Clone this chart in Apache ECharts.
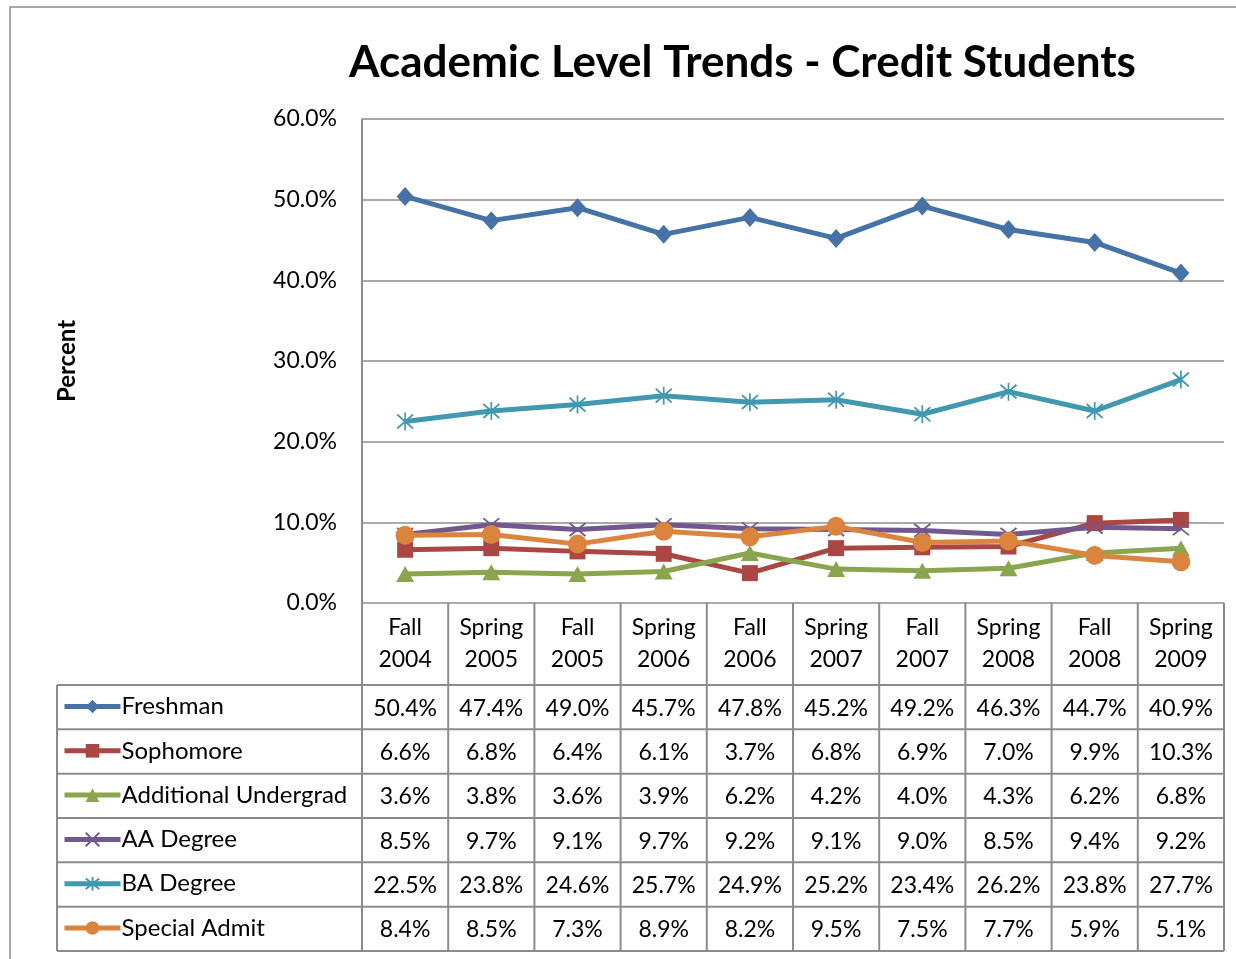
<!DOCTYPE html>
<html>
<head>
<meta charset="utf-8">
<script src="https://cdn.jsdelivr.net/npm/echarts@6/dist/echarts.min.js"></script>
<style>html,body{margin:0;padding:0;background:#fff;}#c{width:1236px;height:959px;}</style>
</head>
<body>
<div id="c"></div>
<script>
const categories = ['Fall\n2004','Spring\n2005','Fall\n2005','Spring\n2006','Fall\n2006','Spring\n2007','Fall\n2007','Spring\n2008','Fall\n2008','Spring\n2009'];
const seriesNames = ['Freshman','Sophomore','Additional Undergrad','AA Degree','BA Degree','Special Admit'];
const freshman = [50.4,47.4,49.0,45.7,47.8,45.2,49.2,46.3,44.7,40.9];
const sophomore = [6.6,6.8,6.4,6.1,3.7,6.8,6.9,7.0,9.9,10.3];
const additionalUndergrad = [3.6,3.8,3.6,3.9,6.2,4.2,4.0,4.3,6.2,6.8];
const aaDegree = [8.5,9.7,9.1,9.7,9.2,9.1,9.0,8.5,9.4,9.2];
const baDegree = [22.5,23.8,24.6,25.7,24.9,25.2,23.4,26.2,23.8,27.7];
const specialAdmit = [8.4,8.5,7.3,8.9,8.2,9.5,7.5,7.7,5.9,5.1];
const yTicks = [0,10,20,30,40,50,60];

const allData = [freshman, sophomore, additionalUndergrad, aaDegree, baDegree, specialAdmit];
const colors = ['#4572A7','#AA4643','#89A54E','#71588F','#4198AF','#DB843D'];
const symbols = ['diamond','rect','triangle','path://M0,0L10,10M0,10L10,0','path://M0,0L10,10M0,10L10,0M5,-1.5L5,11.5','circle'];
const symbolSizes = [[17,19],16,[18,16],[16,13],[16,18],19];
const FONT = 'Lato';
const GRID = '#8c8c8c';
const FS = 23;

const chart = echarts.init(document.getElementById('c'), null, {renderer:'canvas'});

const series = seriesNames.map((n,i)=>({
  name:n, type:'line', data:allData[i],
  symbol:symbols[i], symbolSize:symbolSizes[i],
  lineStyle:{width:5, color:colors[i]},
  itemStyle:(i===3||i===4)?{color:colors[i], borderColor:colors[i], borderWidth:1.8}:{color:colors[i]},
  emphasis:{disabled:true},
  animation:false
}));

chart.setOption({
  animation:false,
  title:{text:'Academic Level Trends - Credit Students', left:344, top:36,
    textStyle:{fontFamily:FONT, fontWeight:'bold', fontSize:44, color:'#000'}},
  grid:{left:362, top:119, width:862, height:484},
  legend:{orient:'vertical', left:62, top:694, padding:0, itemWidth:56, itemHeight:17, itemGap:19.3,
    selectedMode:false,
    lineStyle:{width:5},
    textStyle:{fontFamily:FONT, fontSize:24, color:'#000', lineHeight:25, padding:[0,0,0,-4]},
    data:seriesNames},
  xAxis:{type:'category', data:categories, boundaryGap:true,
    axisLine:{show:false},
    axisTick:{show:false},
    axisLabel:{fontFamily:FONT, fontSize:FS, color:'#000', lineHeight:32, margin:9, interval:0}},
  yAxis:{type:'value', min:yTicks[0], max:yTicks[yTicks.length-1], interval:10,
    name:'Percent', nameLocation:'middle', nameGap:283, nameRotate:90,
    nameTextStyle:{fontFamily:FONT, fontWeight:'bold', fontSize:24, color:'#000'},
    axisLine:{show:true, lineStyle:{color:GRID, width:1.5}},
    axisTick:{show:false},
    splitLine:{lineStyle:{color:GRID, width:1.5}},
    axisLabel:{fontFamily:FONT, fontSize:FS, color:'#000', margin:25, formatter:v=>v.toFixed(1)+'%'}},
  series:series
});

// Build data table from axis scale
const c0 = chart.convertToPixel({xAxisIndex:0}, 0);
const c1 = chart.convertToPixel({xAxisIndex:0}, 1);
const band = c1 - c0;
const yZero = chart.convertToPixel({yAxisIndex:0}, 0);
const yTop = chart.convertToPixel({yAxisIndex:0}, 60);
const left0 = c0 - band/2;
const right0 = left0 + band*categories.length;
const headerH = 82;
const rowH = 44.33;
const tableLeft = 57;
const headBottom = yZero + headerH;
const tableBottom = headBottom + rowH*seriesNames.length;
const g = [];
const ls = {stroke:GRID, lineWidth:2};
g.push({type:'rect', shape:{x:10,y:7,width:1400,height:1200}, style:{fill:'none', stroke:'#8c8c8c', lineWidth:1.5}, silent:true});
for(let k=0;k<=categories.length;k++){
  const x = left0 + k*band;
  g.push({type:'line', shape:{x1:x,y1:(k===0?yTop:yZero),x2:x,y2:tableBottom}, style:ls, silent:true});
}
g.push({type:'line', shape:{x1:tableLeft,y1:headBottom,x2:tableLeft,y2:tableBottom}, style:ls, silent:true});
for(let r=0;r<=seriesNames.length;r++){
  const y = headBottom + r*rowH;
  g.push({type:'line', shape:{x1:tableLeft,y1:y,x2:right0,y2:y}, style:ls, silent:true});
}
allData.forEach((arr,r)=>{
  arr.forEach((v,k)=>{
    const x = chart.convertToPixel({xAxisIndex:0}, k);
    g.push({type:'text', x:x, y:headBottom + r*rowH + rowH/2 + 1,
      style:{text:v.toFixed(1)+'%', fontFamily:FONT, fontSize:FS, fill:'#000', align:'center', verticalAlign:'middle'}, silent:true});
  });
});
chart.setOption({graphic:g});
</script>
</body>
</html>
